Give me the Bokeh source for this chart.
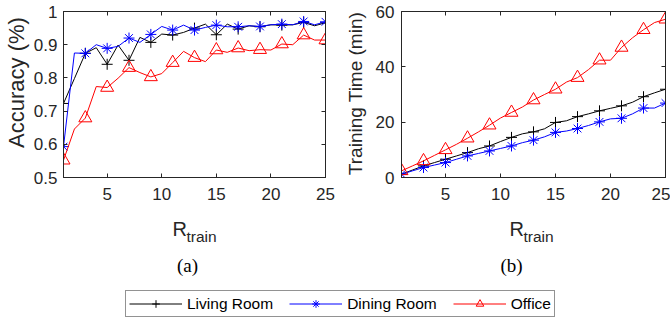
import math
from bokeh.plotting import figure
from bokeh.models import Range1d, LinearAxis, FixedTicker, Label, Legend, LegendItem
from bokeh.layouts import column, row
from bokeh.embed import file_html
from bokeh.resources import INLINE

# ---------------- data ----------------
r_train = list(range(1, 26))
acc_living = [0.723, 0.798, 0.874, 0.891, 0.841, 0.899, 0.853, 0.922, 0.907, 0.932,
              0.929, 0.937, 0.950, 0.962, 0.930, 0.962, 0.947, 0.957, 0.954, 0.960,
              0.959, 0.960, 0.967, 0.957, 0.966]
acc_dining = [0.593, 0.875, 0.874, 0.900, 0.889, 0.895, 0.920, 0.907, 0.931, 0.955,
              0.944, 0.959, 0.944, 0.952, 0.959, 0.954, 0.954, 0.957, 0.955, 0.960,
              0.962, 0.960, 0.970, 0.960, 0.969]
acc_office = [0.552, 0.646, 0.679, 0.774, 0.771, 0.799, 0.831, 0.816, 0.803, 0.813,
              0.846, 0.880, 0.861, 0.849, 0.884, 0.877, 0.890, 0.882, 0.885, 0.884,
              0.902, 0.900, 0.929, 0.914, 0.914]
time_living = [1.2, 2.7, 4.2, 5.4, 6.6, 7.8, 9.0, 10.4, 11.4, 13.0, 14.5, 15.8, 16.5,
               17.6, 19.9, 20.5, 22.0, 23.0, 24.1, 25.0, 25.9, 27.2, 29.2, 30.6, 31.9]
time_dining = [1.2, 2.4, 3.6, 4.5, 5.4, 6.6, 7.8, 8.7, 9.6, 10.5, 11.4, 12.6, 13.5,
               14.7, 16.3, 16.8, 17.7, 18.8, 20.1, 21.2, 21.4, 23.0, 25.1, 25.1, 26.9]
time_office = [2.4, 4.2, 6.0, 8.0, 10.0, 12.0, 14.2, 16.5, 18.9, 21.5, 23.5, 25.5, 28.0,
               30.0, 31.9, 34.5, 36.1, 39.0, 42.4, 42.4, 47.0, 50.5, 53.4, 56.0, 57.2]
x_ticks = [5, 10, 15, 20, 25]
acc_ticks = [0.5, 0.6, 0.7, 0.8, 0.9, 1.0]
time_ticks = [0, 20, 40, 60]
series_names = ["Living Room", "Dining Room", "Office"]

AX = "#262626"
SANS = "Liberation Sans"
SERIF = "Liberation Serif"
COLORS = ["#000000", "#0000FF", "#FF0000"]
MARKERS = ["cross", "asterisk", "triangle"]
MSIZES = [11, 11, 13]

ROW_H = 210
B_TOP = 11
B_BOT = 33
FRAME_BOTTOM = ROW_H - B_BOT


def style_axis(ax, ticks, labels=True, standoff=6):
    ax.ticker = FixedTicker(ticks=ticks)
    ax.axis_line_color = AX
    ax.axis_line_width = 1
    ax.major_tick_line_color = AX
    ax.major_tick_in = 4
    ax.major_tick_out = 0
    ax.minor_tick_line_color = None
    ax.major_label_text_font = SANS
    if labels:
        ax.major_label_text_color = AX
        ax.major_label_text_font_size = "17px"
        ax.major_label_standoff = standoff
    else:
        ax.major_label_text_color = None
        ax.major_label_text_font_size = "1px"
        ax.major_label_standoff = 0


def blank_fig(width, height, **kw):
    f = figure(width=width, height=height, x_range=Range1d(0, 1), y_range=Range1d(0, 1),
               output_backend="svg", toolbar_location=None,
               x_axis_location=None, y_axis_location=None, **kw)
    f.xgrid.grid_line_color = None
    f.ygrid.grid_line_color = None
    f.outline_line_color = None
    return f


def make_panel(width, ml, mr, y_lo, y_hi, yticks, ys, ystand):
    p = figure(width=width, height=ROW_H, x_range=Range1d(1, 25), y_range=Range1d(y_lo, y_hi),
               output_backend="svg", toolbar_location=None,
               min_border_left=ml, min_border_right=mr, min_border_top=B_TOP,
               min_border_bottom=B_BOT)
    p.xgrid.grid_line_color = None
    p.ygrid.grid_line_color = None
    p.outline_line_color = AX
    p.background_fill_color = "white"
    p.border_fill_color = "white"
    style_axis(p.xaxis[0], x_ticks, standoff=10)
    style_axis(p.yaxis[0], yticks, standoff=ystand)
    top = LinearAxis()
    style_axis(top, x_ticks, labels=False)
    p.add_layout(top, "above")
    right = LinearAxis()
    style_axis(right, yticks, labels=False)
    p.add_layout(right, "right")
    for yv, c, m, s in zip(ys, COLORS, MARKERS, MSIZES):
        p.line(r_train, yv, line_color=c, line_width=1)
        p.scatter(r_train[::2], yv[::2], marker=m, size=s, line_color=c,
                  fill_color=None, line_width=1)
    return p


def ylabel_fig(width, text, size, cx, cy):
    # frame of this strip is aligned with the plot frames of the row
    f = blank_fig(width, ROW_H, min_border_left=0, min_border_right=0,
                  min_border_top=B_TOP, min_border_bottom=B_BOT)
    f.add_layout(Label(x=cx, y=FRAME_BOTTOM - cy, x_units="screen", y_units="screen",
                       text=text, angle=math.pi / 2, text_align="center",
                       text_baseline="middle", text_font=SANS, text_font_size=size,
                       text_color=AX))
    return f


p1 = make_panel(310, 33, 15, 0.5, 1.0, acc_ticks, [acc_living, acc_dining, acc_office], 6)
p2 = make_panel(298, 28, 5, 0, 60, time_ticks, [time_living, time_dining, time_office], 7)
yl1 = ylabel_fig(30, "Accuracy (%)", "22px", 16, 82)
yl2 = ylabel_fig(32, "Training Time (min)", "19px", 15, 93)

# bottom strip: x-axis titles, panel captions and legend
CAP_H = 110
p3 = blank_fig(670, CAP_H, min_border=0)
for rx in (172, 509):
    p3.add_layout(Label(x=rx, y=CAP_H - 18, x_units="screen", y_units="screen", text="R",
                        text_align="left", text_baseline="alphabetic", text_font=SANS,
                        text_font_size="20px", text_color=AX))
    p3.add_layout(Label(x=rx + 14, y=CAP_H - 26, x_units="screen", y_units="screen",
                        text="train", text_align="left", text_baseline="alphabetic",
                        text_font=SANS, text_font_size="15.5px", text_color=AX))
for cx, cap in ((187, "(a)"), (511, "(b)")):
    p3.add_layout(Label(x=cx, y=CAP_H - 55, x_units="screen", y_units="screen", text=cap,
                        text_align="center", text_baseline="middle", text_font=SERIF,
                        text_font_size="19px", text_color="black"))

items = []
for name, yv, c, m, s in zip(series_names, [acc_living, acc_dining, acc_office],
                             COLORS, MARKERS, MSIZES):
    lr = p3.line(r_train, yv, line_color=c, line_width=1, visible=False)
    sr = p3.scatter(r_train[::2], yv[::2], marker=m, size=s, line_color=c,
                    fill_color=None, line_width=1, visible=False)
    items.append(LegendItem(label=name, renderers=[lr, sr]))

legend = Legend(items=items, orientation="horizontal", location=(125, 3),
                glyph_width=53, glyph_height=19, label_height=19, label_standoff=5,
                spacing=16, padding=3, margin=0, label_text_font=SANS,
                label_text_font_size="15.5px", label_text_color="black",
                border_line_color=AX, border_line_width=1,
                background_fill_color="white", background_fill_alpha=1.0)
p3.add_layout(legend, "center")

layout = column(row(yl1, p1, yl2, p2), p3)
open("out.html", "w").write(file_html(layout, INLINE))
